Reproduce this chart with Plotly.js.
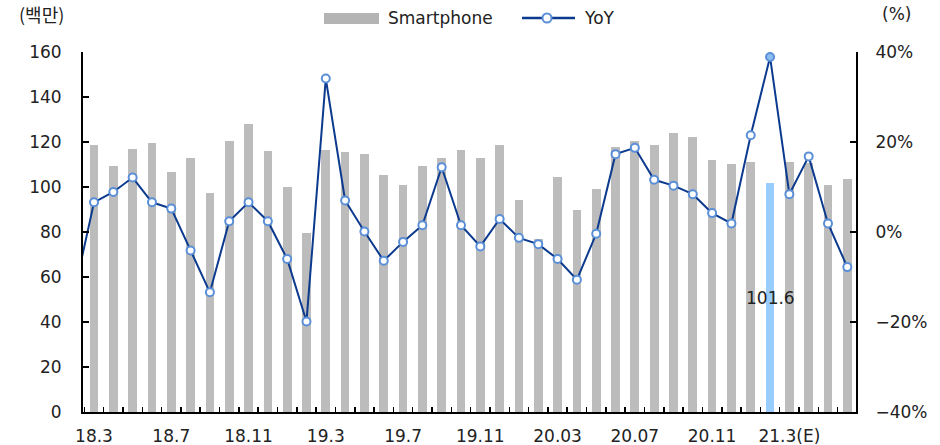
<!DOCTYPE html>
<html>
<head>
<meta charset="utf-8">
<script src="https://cdn.plot.ly/plotly-3.0.1.min.js"></script>
<style>
html,body{margin:0;padding:0;background:#fff;}
#chart{width:940px;height:445px;}
</style>
</head>
<body>
<div id="chart"></div>
<script>
// Months (18.2 lies just outside the visible range; only its YoY line segment enters the plot)
const months = ["18.2","18.3","18.4","18.5","18.6","18.7","18.8","18.9","18.10","18.11","18.12",
  "19.1","19.2","19.3","19.4","19.5","19.6","19.7","19.8","19.9","19.10","19.11","19.12",
  "20.1","20.2","20.3","20.4","20.5","20.6","20.7","20.8","20.9","20.10","20.11","20.12",
  "21.1","21.2","21.3","21.4","21.5","21.6"];
// Smartphone shipments (millions)
const smartphone = [null,118.7,109.3,116.7,119.6,106.5,113.0,97.3,120.4,127.9,115.9,
  100.0,79.7,116.6,115.7,114.8,105.5,101.0,109.5,113.0,116.6,113.0,118.7,
  94.4,76.7,104.6,89.9,99.3,117.9,120.6,118.8,124.1,122.4,112.1,110.4,
  111.2,101.6,111.1,110.7,101.0,103.7];
// YoY (%)
const yoy = [-13.0,6.6,8.9,12.1,6.6,5.2,-4.1,-13.4,2.4,6.6,2.4,
  -6.0,-19.9,34.1,7.0,0.1,-6.4,-2.2,1.5,14.4,1.5,-3.2,2.9,
  -1.3,-2.7,-6.0,-10.6,-0.4,17.3,18.7,11.6,10.3,8.4,4.2,1.9,
  21.5,38.9,8.4,16.8,1.9,-7.8];
// Tick label categories and texts
const tickCats  = ["18.3","18.7","18.11","19.3","19.7","19.11","20.3","20.7","20.11","21.3"];
const tickTexts = ["18.3","18.7","18.11","19.3","19.7","19.11","20.03","20.07","20.11","21.3(E)"];
const highlightMonth = "21.2";

const FONT = "DejaVu Sans";
const TXT = "#222";
const hi = months.indexOf(highlightMonth);
const barColors = months.map((m,i)=> i===hi ? "#99ccff" : "#bcbcbc");
const markerFill = months.map((m,i)=> i===hi ? "#8dbdf0" : "#ffffff");
const xTickText = months.map(m => { const k = tickCats.indexOf(m); return k>=0 ? tickTexts[k] : ""; });

const traces = [
  {
    type:"bar", x:months, y:smartphone, name:"Smartphone", yaxis:"y",
    marker:{color:barColors}, width:0.45,
    showlegend:false, hoverinfo:"x+y"
  },
  {
    type:"scatter", mode:"lines+markers", x:months, y:yoy, name:"YoY", yaxis:"y2",
    line:{color:"#0b3a8e", width:2},
    marker:{size:8, color:markerFill, line:{color:"#5a8fd8", width:2}},
    showlegend:false
  }
];

const L=83, R=856, T=52, B=412;
const px = x => (x-L)/(R-L);
const py = y => (B-y)/(B-T);

const layout = {
  width:940, height:445,
  margin:{l:L, r:940-R, t:T, b:445-B, pad:0},
  paper_bgcolor:"#fff", plot_bgcolor:"#fff",
  font:{family:FONT, size:17, color:TXT},
  bargap:0,
  xaxis:{
    type:"category", range:[0.43,40.45],
    tickmode:"array", tickvals:months, ticktext:xTickText, tickson:"boundaries",
    ticks:"inside", ticklen:5, tickwidth:1.5, tickcolor:"#000",
    showline:true, linecolor:"#000", linewidth:2, showgrid:false, zeroline:false,
    tickfont:{family:FONT,size:17,color:TXT}, ticklabelstandoff:8, tickangle:0
  },
  yaxis:{
    range:[0,160], dtick:20, tick0:0,
    ticks:"inside", ticklen:6, tickwidth:1.5, tickcolor:"#000",
    showline:true, linecolor:"#000", linewidth:2, showgrid:false, zeroline:false,
    tickfont:{family:FONT,size:17,color:TXT}, ticklabelstandoff:16
  },
  yaxis2:{
    overlaying:"y", side:"right", range:[-40,40], dtick:20, tick0:0, ticksuffix:"%",
    ticks:"inside", ticklen:6, tickwidth:1.5, tickcolor:"#000",
    showline:true, linecolor:"#000", linewidth:2, showgrid:false, zeroline:false,
    tickfont:{family:FONT,size:17,color:TXT}, ticklabelstandoff:14
  },
  shapes:[
    {type:"rect", xref:"paper", yref:"paper", x0:px(324), x1:px(379), y0:py(24), y1:py(13),
     fillcolor:"#b4b4b4", line:{width:0}},
    {type:"line", xref:"paper", yref:"paper", x0:px(522), x1:px(575), y0:py(18), y1:py(18),
     line:{color:"#0b3a8e", width:2.5}},
    {type:"circle", xref:"paper", yref:"paper", xsizemode:"pixel", ysizemode:"pixel",
     xanchor:px(547), yanchor:py(18), x0:-4.5, x1:4.5, y0:-4.5, y1:4.5,
     fillcolor:"#fff", line:{color:"#5a8fd8", width:2}}
  ],
  annotations:[
    {xref:"x", yref:"y", x:hi, y:smartphone[hi]/2, xanchor:"center", yanchor:"middle",
     text:smartphone[hi].toFixed(1), showarrow:false, font:{family:FONT,size:17,color:TXT}},
    {xref:"paper", yref:"paper", x:px(386), y:py(18), xanchor:"left", yanchor:"middle",
     text:"Smartphone", showarrow:false, font:{family:FONT,size:17,color:TXT}},
    {xref:"paper", yref:"paper", x:px(582), y:py(18), xanchor:"left", yanchor:"middle",
     text:"YoY", showarrow:false, font:{family:FONT,size:17,color:TXT}},
    {xref:"paper", yref:"paper", x:px(17), y:py(14), xanchor:"left", yanchor:"middle",
     text:"(백만)", showarrow:false, font:{family:"Noto Sans CJK KR",size:18,color:TXT}},
    {xref:"paper", yref:"paper", x:px(880), y:py(14), xanchor:"left", yanchor:"middle",
     text:"(%)", showarrow:false, font:{family:FONT,size:17,color:TXT}}
  ]
};

Plotly.newPlot("chart", traces, layout, {displayModeBar:false, staticPlot:true});
</script>
</body>
</html>
